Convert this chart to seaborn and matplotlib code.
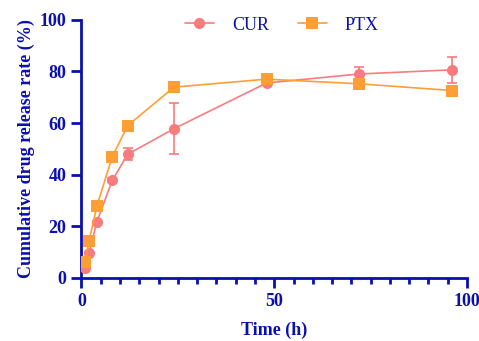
import numpy as np
import pandas as pd
import matplotlib
matplotlib.use("Agg")
import matplotlib.pyplot as plt
import seaborn as sns
from matplotlib.ticker import MultipleLocator

# Data
time_h = [1, 2, 4, 8, 12, 24, 48, 72, 96]
cur_mean = [3.7, 9.8, 21.7, 37.8, 47.9, 57.8, 75.5, 79.0, 80.6]
cur_err = [0.3, 0.3, 0.5, 0.8, 2.3, 9.8, 0.8, 2.9, 4.9]
ptx_mean = [6.3, 14.4, 27.8, 47.0, 59.0, 73.9, 77.0, 75.2, 72.6]
ptx_err = [0.3, 0.3, 0.5, 0.8, 0.8, 0.8, 0.5, 0.5, 0.5]

series_names = ["CUR", "PTX"]
series_colors = {"CUR": "#F87C7E", "PTX": "#FF9E35"}
series_markers = {"CUR": "o", "PTX": "s"}
axis_blue = "#0A0FAF"

df = pd.DataFrame({
    "Time": time_h * 2,
    "Release": cur_mean + ptx_mean,
    "Err": cur_err + ptx_err,
    "Drug": ["CUR"] * len(time_h) + ["PTX"] * len(time_h),
})

sns.set_theme(style="ticks")
plt.rcParams["font.family"] = ["Liberation Serif", "DejaVu Serif"]
plt.rcParams["font.weight"] = "bold"

fig = plt.figure(figsize=(4.79, 3.41), dpi=100)
ax = fig.add_axes([0.170, 0.185, 0.805, 0.757])

for name in series_names:
    sub = df[df["Drug"] == name]
    ax.errorbar(sub["Time"], sub["Release"], yerr=sub["Err"], fmt="none",
                ecolor=series_colors[name], elinewidth=1.2, capsize=3.5, capthick=1.2,
                zorder=2)

sns.lineplot(data=df, x="Time", y="Release", hue="Drug", style="Drug",
             palette=series_colors, markers=series_markers, dashes=False,
             markersize=8, markeredgewidth=0, linewidth=1.2, ax=ax, zorder=3)

ax.set_xlim(0, 100)
ax.set_ylim(0, 100)
ax.xaxis.set_major_locator(MultipleLocator(50))
ax.xaxis.set_minor_locator(MultipleLocator(5))
ax.yaxis.set_major_locator(MultipleLocator(20))

for side in ["top", "right"]:
    ax.spines[side].set_visible(False)
for side in ["left", "bottom"]:
    ax.spines[side].set_color(axis_blue)
    ax.spines[side].set_linewidth(2)
ax.tick_params(axis="both", which="major", colors=axis_blue, width=2, length=7,
               labelsize=13, pad=4)
ax.tick_params(axis="x", which="minor", colors=axis_blue, width=2, length=4)
for lab in ax.get_xticklabels() + ax.get_yticklabels():
    lab.set_fontweight("bold")
    lab.set_color(axis_blue)

ax.set_xlabel("Time (h)", fontsize=13, fontweight="bold", color=axis_blue, labelpad=8)
ax.set_ylabel("Cumulative drug release rate (%)", fontsize=13, fontweight="bold",
              color=axis_blue, labelpad=3)

leg = ax.legend(loc="upper center", bbox_to_anchor=(0.52, 1.075), ncol=2, frameon=False,
                fontsize=13, handlelength=1.6, columnspacing=1.6, handletextpad=1.0,
                title=None)
for txt in leg.get_texts():
    txt.set_color(axis_blue)
    txt.set_fontweight("normal")

fig.savefig("out.png", dpi=100)
